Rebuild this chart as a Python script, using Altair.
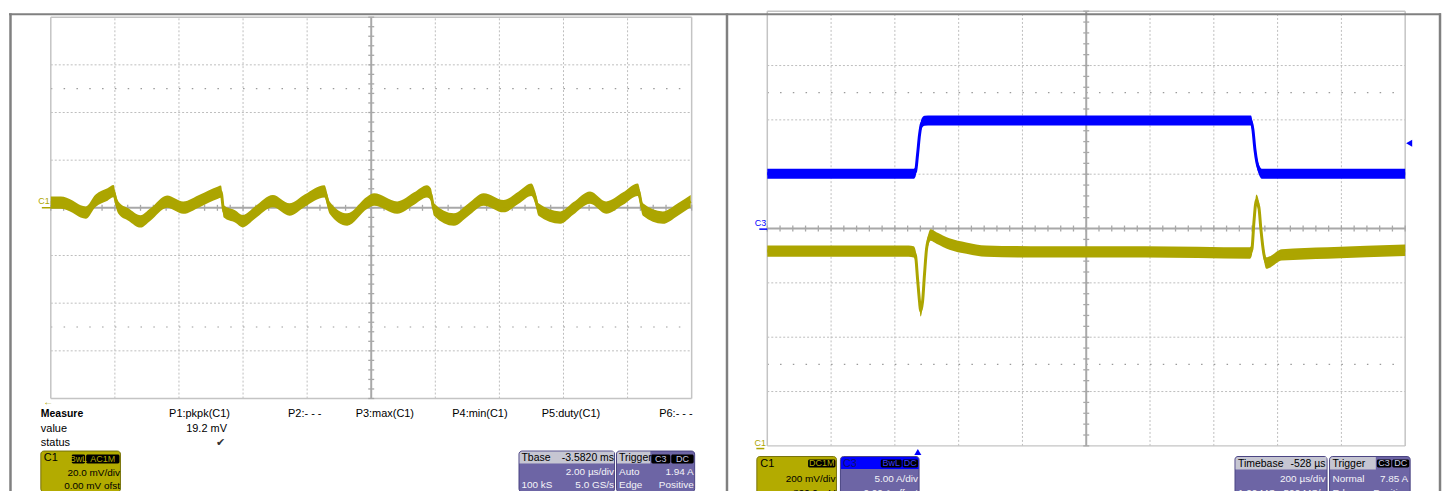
import altair as alt
import pandas as pd

# ---------------- data ----------------
# Left capture: channel C1, 2.00 us/div, 20.0 mV/div (time relative to screen centre)
L_TIME_US = [-10.00, -9.69, -9.32, -9.07, -8.91, -8.60, -8.23, -8.04, -7.98, -7.89,
             -7.58, -7.20, -6.89, -6.37, -5.87, -5.34, -4.78, -4.69, -4.60, -4.25,
             -4.01, -3.63, -3.07, -2.55, -2.08, -1.46, -1.30, -0.75, -0.12, 0.09,
             0.81, 1.34, 1.74, 1.86, 1.96, 2.58, 3.04, 3.51, 4.13, 4.60,
             5.00, 5.12, 5.22, 5.90, 6.30, 6.83, 7.33, 7.86, 8.32, 8.48,
             9.10, 9.57, 9.97]
L_C1_MV = [2.2, 2.2, 0.5, -1.5, -2.0, 3.0, 5.6, 7.0, 3.5, 0.1,
           -2.8, -5.7, -2.8, 2.6, 0.1, 3.0, 6.4, 6.8, -1.5, -3.6,
           -5.6, -2.0, 2.8, -0.7, 3.0, 6.9, 0.1, -4.9, 2.2, 3.5,
           0.1, 3.9, 6.9, 5.6, -0.7, -4.9, -0.7, 3.5, 0.7, 4.3,
           7.6, 4.3, -0.7, -4.1, -0.3, 4.3, 0.1, 3.9, 7.6, -0.7,
           -4.1, -0.7, 2.8]

# Right capture: 200 us/div; C3 current 5.00 A/div, C1 voltage 200 mV/div, offset -866 mV
R_C3_TIME_US = [-1000, -541.3, -535.1, -528.9, -522.6, -516.4, -507.0, -485.2,
                516.4, 522.6, 528.9, 535.1, 541.3, 550.7, 1000]
R_C3_A = [5.05, 5.05, 5.26, 6.81, 8.64, 9.65, 9.93, 9.95,
          9.95, 9.10, 7.27, 6.08, 5.44, 5.05, 5.05]
R_C1_TIME_US = [-1000, -556.9, -541.3, -535.1, -528.9, -522.6, -519.5, -513.3, -507.0, -500.8,
                -494.5, -488.3, -469.6, -429.0, -376.0, -313.6, -126.4, 185.6, 513.3, 519.5,
                525.7, 533.5, 541.3, 547.6, 556.9, 564.7, 575.7, 613.1, 756.6, 1000]
R_C1_MV = [783, 783, 780, 765, 681, 596, 563, 596, 699, 790,
           827, 842, 831, 809, 794, 783, 780, 780, 776, 790,
           889, 970, 944, 864, 772, 739, 743, 769, 776, 786]

# scope settings (text shown on screen)
L_US_DIV, L_MV_DIV = 2.0, 20.0
R_US_DIV, R_A_DIV, R_MV_DIV, R_MV_OFS = 200.0, 5.0, 200.0, -866.0
R_TRIG_US, R_TRIG_A = -528.0, 7.85

# ---------------- styles ----------------
FONT = "Liberation Sans"
YEL = "#aca500"
YBOX = "#b3ab00"
PURPLE = "#6d65a5"
HDR = "#c6c6d2"
BLUE = "#0000ff"
FRAME = "#808080"
GRIDC = "#bdbdbd"
AXC = "#a8a8a8"

W_L, W_R, H = 721, 719, 483


# screen pixel -> graticule division, for each capture
def lx(sx): return (sx - 50) / 64.4
def ly(sy): return 4 - (sy - 12) / 47.9
def rx(sx): return (sx - 770) / 64.1
def ry(sy): return 4 - (sy - 6) / 54.6


XS_L = alt.Scale(domain=[lx(8), lx(729)], nice=False, zero=False)
YS_L = alt.Scale(domain=[ly(491), ly(8)], nice=False, zero=False)
XS_R = alt.Scale(domain=[rx(729), rx(1448)], nice=False, zero=False)
YS_R = alt.Scale(domain=[ry(491), ry(8)], nice=False, zero=False)


def rules(segs, xs, ys, color, width, dash=None):
    df = pd.DataFrame(segs, columns=["x", "x2", "y", "y2"])
    kw = dict(color=color, strokeWidth=width)
    if dash:
        kw["strokeDash"] = dash
    return alt.Chart(df).mark_rule(**kw).encode(
        x=alt.X("x:Q", scale=xs, axis=None), x2="x2:Q",
        y=alt.Y("y:Q", scale=ys, axis=None), y2="y2:Q")


def rects(boxes, xs, ys, fill, stroke=None, **mk):
    df = pd.DataFrame(boxes, columns=["x", "x2", "y", "y2"])
    kw = dict(fill=fill, opacity=1)
    if stroke:
        kw["stroke"] = stroke
        kw["strokeWidth"] = 1
    kw.update(mk)
    return alt.Chart(df).mark_rect(**kw).encode(
        x=alt.X("x:Q", scale=xs, axis=None), x2="x2:Q",
        y=alt.Y("y:Q", scale=ys, axis=None), y2="y2:Q")


def texts(rows, xs, ys, fx, fy):
    groups = {}
    for sx, sy, txt, col, size, align, weight in rows:
        groups.setdefault((align, weight), []).append((fx(sx), fy(sy), txt, col, size))
    out = []
    for (align, weight), items in groups.items():
        df = pd.DataFrame(items, columns=["x", "y", "t", "c", "s"])
        out.append(alt.Chart(df).mark_text(align=align, baseline="alphabetic", font=FONT,
                                           fontWeight=weight).encode(
            x=alt.X("x:Q", scale=xs, axis=None), y=alt.Y("y:Q", scale=ys, axis=None),
            text="t:N", color=alt.Color("c:N", scale=None), size=alt.Size("s:Q", scale=None)))
    return out


def graticule(xs, ys, px_x, px_y, dot_period):
    lay = []
    lay.append(rules([(k, k, -4, 4) for k in [1, 2, 3, 4, 6, 7, 8, 9]] +
                     [(0, 10, k, k) for k in [-3, -2, -1, 1, 2, 3]], xs, ys, GRIDC, 1, [2, 2]))
    lay.append(rules([(0, 10, 2.5, 2.5), (0, 10, -2.5, -2.5)], xs, ys, "#9a9a9a", 1.2,
                     [1.5, dot_period - 1.5]))
    lay.append(rules([(0, 0, -4, 4), (10, 10, -4, 4), (0, 10, 4, 4), (0, 10, -4, -4)],
                     xs, ys, "#c4c4c4", 1.5))
    lay.append(rules([(5, 5, -4, 4), (0, 10, 0, 0)], xs, ys, AXC, 2))
    tx = 3 / px_x
    ty = 3 / px_y
    lay.append(rules([(k * 0.2, k * 0.2, -ty, ty) for k in range(51)] +
                     [(5 - tx, 5 + tx, -4 + k * 0.2, -4 + k * 0.2) for k in range(41)],
                     xs, ys, AXC, 1.3))
    return lay


def trace(t, v, fx, fy, half, xs, ys, color, lw):
    df = pd.DataFrame({"x": [fx(a) for a in t], "y": [fy(b) for b in v]})
    df["lo"] = df["y"] - half
    df["hi"] = df["y"] + half
    band = alt.Chart(df).mark_area(color=color, opacity=1, interpolate="monotone").encode(
        x=alt.X("x:Q", scale=xs, axis=None), y=alt.Y("lo:Q", scale=ys, axis=None), y2="hi:Q")
    line = alt.Chart(df).mark_line(color=color, strokeWidth=lw, strokeJoin="round",
                                   interpolate="monotone").encode(
        x=alt.X("x:Q", scale=xs, axis=None), y=alt.Y("y:Q", scale=ys, axis=None))
    return [band, line]


# ---------------- left capture ----------------
L = []
L += graticule(XS_L, YS_L, 64.4, 47.9, 12.88)
L += trace(L_TIME_US, L_C1_MV, lambda t: t / L_US_DIV + 5, lambda v: v / L_MV_DIV,
           2.6 / L_MV_DIV, XS_L, YS_L, YEL, 3)
L.append(rules([(lx(9.5), lx(9.5), ly(8), ly(491))], XS_L, YS_L, FRAME, 2.5))
L.append(rules([(lx(8), lx(729), ly(9), ly(9))], XS_L, YS_L, FRAME, 2))
L.append(rules([(lx(41), lx(50), ly(203.5), ly(203.5))], XS_L, YS_L, YEL, 1.5))
# info boxes
L.append(rects([(lx(40), lx(120), ly(448), ly(489))], XS_L, YS_L, YBOX, "#77720a", cornerRadius=3))
L.append(rects([(lx(520.5), lx(616.5), ly(448), ly(489)), (lx(618.5), lx(697), ly(448), ly(489))],
               XS_L, YS_L, PURPLE, "#4a4482", cornerRadius=3))
L.append(rects([(lx(521), lx(616), ly(448.5), ly(460.5)), (lx(619), lx(652.5), ly(448.5), ly(460.5))],
               XS_L, YS_L, HDR, cornerRadiusTopLeft=2.5))
L.append(rects([(lx(71), lx(84.5), ly(451.5), ly(460.5)), (lx(85.5), lx(119), ly(451.5), ly(460.5)),
                (lx(653.5), lx(672.5), ly(451.5), ly(460.5)), (lx(673.5), lx(696), ly(451.5), ly(460.5))],
               XS_L, YS_L, "#000000", cornerRadius=1.5))
WH = "#f4f4f8"
L_TEXT = [
    (49, 200, "C1", YEL, 9, "right", "normal"),
    (47.5, 402, "\u2190", YEL, 10, "center", "normal"),
    (40, 414, "Measure", "#000", 10.5, "left", "bold"),
    (40, 429, "value", "#000", 11, "left", "normal"),
    (40, 443, "status", "#000", 11, "left", "normal"),
    (230, 414, "P1:pkpk(C1)", "#000", 11, "right", "normal"),
    (322, 414, "P2:- - -", "#000", 11, "right", "normal"),
    (415, 414, "P3:max(C1)", "#000", 11, "right", "normal"),
    (509, 414, "P4:min(C1)", "#000", 11, "right", "normal"),
    (602, 414, "P5:duty(C1)", "#000", 11, "right", "normal"),
    (695, 414, "P6:- - -", "#000", 11, "right", "normal"),
    (227, 429, "19.2 mV", "#000", 11, "right", "normal"),
    (225, 443, "\u2714", "#333", 11, "right", "normal"),
    (43, 458.5, "C1", "#000", 11, "left", "normal"),
    (77.7, 459, "BwL", YBOX, 9, "center", "normal"),
    (102.2, 459, "AC1M", YBOX, 9, "center", "normal"),
    (119.5, 473.5, "20.0 mV/div", "#000", 10, "right", "normal"),
    (119.5, 486, "0.00 mV ofst", "#000", 10, "right", "normal"),
    (523, 458.5, "Tbase", "#000", 10.5, "left", "normal"),
    (616, 458.5, "-3.5820 ms", "#000", 10.5, "right", "normal"),
    (616, 472.5, "2.00 \u00b5s/div", WH, 10, "right", "normal"),
    (523, 485.5, "100 kS", WH, 10, "left", "normal"),
    (616, 485.5, "5.0 GS/s", WH, 10, "right", "normal"),
    (621, 458.5, "Trigger", "#000", 10.5, "left", "normal"),
    (663, 459, "C3", "#c8c8e6", 9, "center", "normal"),
    (684.7, 459, "DC", "#c8c8e6", 9, "center", "normal"),
    (621, 472.5, "Auto", WH, 10, "left", "normal"),
    (696, 472.5, "1.94 A", WH, 10, "right", "normal"),
    (621, 485.5, "Edge", WH, 10, "left", "normal"),
    (696, 485.5, "Positive", WH, 10, "right", "normal"),
]
L += texts(L_TEXT, XS_L, YS_L, lx, ly)
left = alt.layer(*L).properties(width=W_L, height=H)

# ---------------- right capture ----------------
R = []
R += graticule(XS_R, YS_R, 64.1, 54.6, 12.82)
rt = lambda t: (t + 5 * R_US_DIV) / R_US_DIV
R += trace(R_C1_TIME_US, R_C1_MV, rt, lambda v: (v + R_MV_OFS) / R_MV_DIV,
           21 / R_MV_DIV, XS_R, YS_R, YEL, 3)
R += trace(R_C3_TIME_US, R_C3_A, rt, lambda a: a / R_A_DIV,
           0.46 / R_A_DIV, XS_R, YS_R, BLUE, 3)
R.append(rules([(rx(729.5), rx(729.5), ry(8), ry(491)), (rx(1446), rx(1446), ry(8), ry(491))],
               XS_R, YS_R, FRAME, 2.5))
R.append(rules([(rx(729), rx(1447), ry(9), ry(9))], XS_R, YS_R, FRAME, 2))
R.append(rules([(rx(762), rx(770), ry(225), ry(225))], XS_R, YS_R, BLUE, 1.5))
R.append(rules([(rx(759), rx(767), ry(445.5), ry(445.5))], XS_R, YS_R, YEL, 1.5))
mk = pd.DataFrame({"x": [rt(R_TRIG_US), rx(1415)], "y": [ry(449), R_TRIG_A / R_A_DIV],
                   "shape": ["triangle-up", "triangle-left"]})
R.append(alt.Chart(mk).mark_point(filled=True, opacity=1, color=BLUE, size=50).encode(
    x=alt.X("x:Q", scale=XS_R, axis=None), y=alt.Y("y:Q", scale=YS_R, axis=None),
    shape=alt.Shape("shape:N", scale=None)))
R.append(rects([(rx(759.5), rx(839.5), ry(453.5), ry(500))], XS_R, YS_R, YBOX, "#77720a", cornerRadius=3))
R.append(rects([(rx(843.5), rx(922.5), ry(453.5), ry(500)), (rx(1240), rx(1332.5), ry(453.5), ry(500)),
                (rx(1335), rx(1416), ry(453.5), ry(500))], XS_R, YS_R, PURPLE, "#4a4482", cornerRadius=3))
R.append(rects([(rx(844), rx(922), ry(454), ry(466))], XS_R, YS_R, BLUE, cornerRadiusTopLeft=2.5,
               cornerRadiusTopRight=2.5))
R.append(rects([(rx(1240.5), rx(1332), ry(454), ry(466.5)), (rx(1335.5), rx(1381.5), ry(454), ry(466.5))],
               XS_R, YS_R, HDR, cornerRadiusTopLeft=2.5))
R.append(rects([(rx(811), rx(838.5), ry(456.5), ry(464.5)), (rx(884), rx(905), ry(456.5), ry(464.5)),
                (rx(906), rx(921.5), ry(456.5), ry(464.5)), (rx(1382.5), rx(1397), ry(456.5), ry(464.5)),
                (rx(1398), rx(1415), ry(456.5), ry(464.5))], XS_R, YS_R, "#000000", cornerRadius=1.5))
R_TEXT = [
    (769, 221.5, "C3", BLUE, 9, "right", "normal"),
    (763, 443, "C1", YEL, 9, "center", "normal"),
    (763, 464.5, "C1", "#000", 11, "left", "normal"),
    (824.7, 463.5, "DC1M", YBOX, 9, "center", "normal"),
    (838.5, 479.5, "200 mV/div", "#000", 10, "right", "normal"),
    (838.5, 493, "-866.0 mV", "#000", 10, "right", "normal"),
    (846, 464.5, "C3", "#10106a", 11, "left", "normal"),
    (894.5, 463.5, "BwL", "#3a3aff", 9, "center", "normal"),
    (913.7, 463.5, "DC", "#3a3aff", 9, "center", "normal"),
    (921.5, 479.5, "5.00 A/div", WH, 10, "right", "normal"),
    (921.5, 493, "0.00 A offset", WH, 10, "right", "normal"),
    (1243, 464.5, "Timebase", "#000", 10.5, "left", "normal"),
    (1331, 464.5, "-528 \u00b5s", "#000", 10.5, "right", "normal"),
    (1331, 479.5, "200 \u00b5s/div", WH, 10, "right", "normal"),
    (1243, 493, "1.00 MS", WH, 10, "left", "normal"),
    (1331, 493, "500 MS/s", WH, 10, "right", "normal"),
    (1338, 464.5, "Trigger", "#000", 10.5, "left", "normal"),
    (1389.7, 463.5, "C3", "#c8c8e6", 9, "center", "normal"),
    (1406.5, 463.5, "DC", "#c8c8e6", 9, "center", "normal"),
    (1338, 479.5, "Normal", WH, 10, "left", "normal"),
    (1414, 479.5, "7.85 A", WH, 10, "right", "normal"),
    (1338, 493, "Edge", WH, 10, "left", "normal"),
    (1414, 493, "Positive", WH, 10, "right", "normal"),
]
R += texts(R_TEXT, XS_R, YS_R, rx, ry)
right = alt.layer(*R).properties(width=W_R, height=H)

chart = alt.hconcat(left, right, spacing=0, bounds="flush").properties(
    padding=0
).configure_view(stroke=None)

chart.save("out.html", embed_options={"renderer": "svg", "actions": False})
